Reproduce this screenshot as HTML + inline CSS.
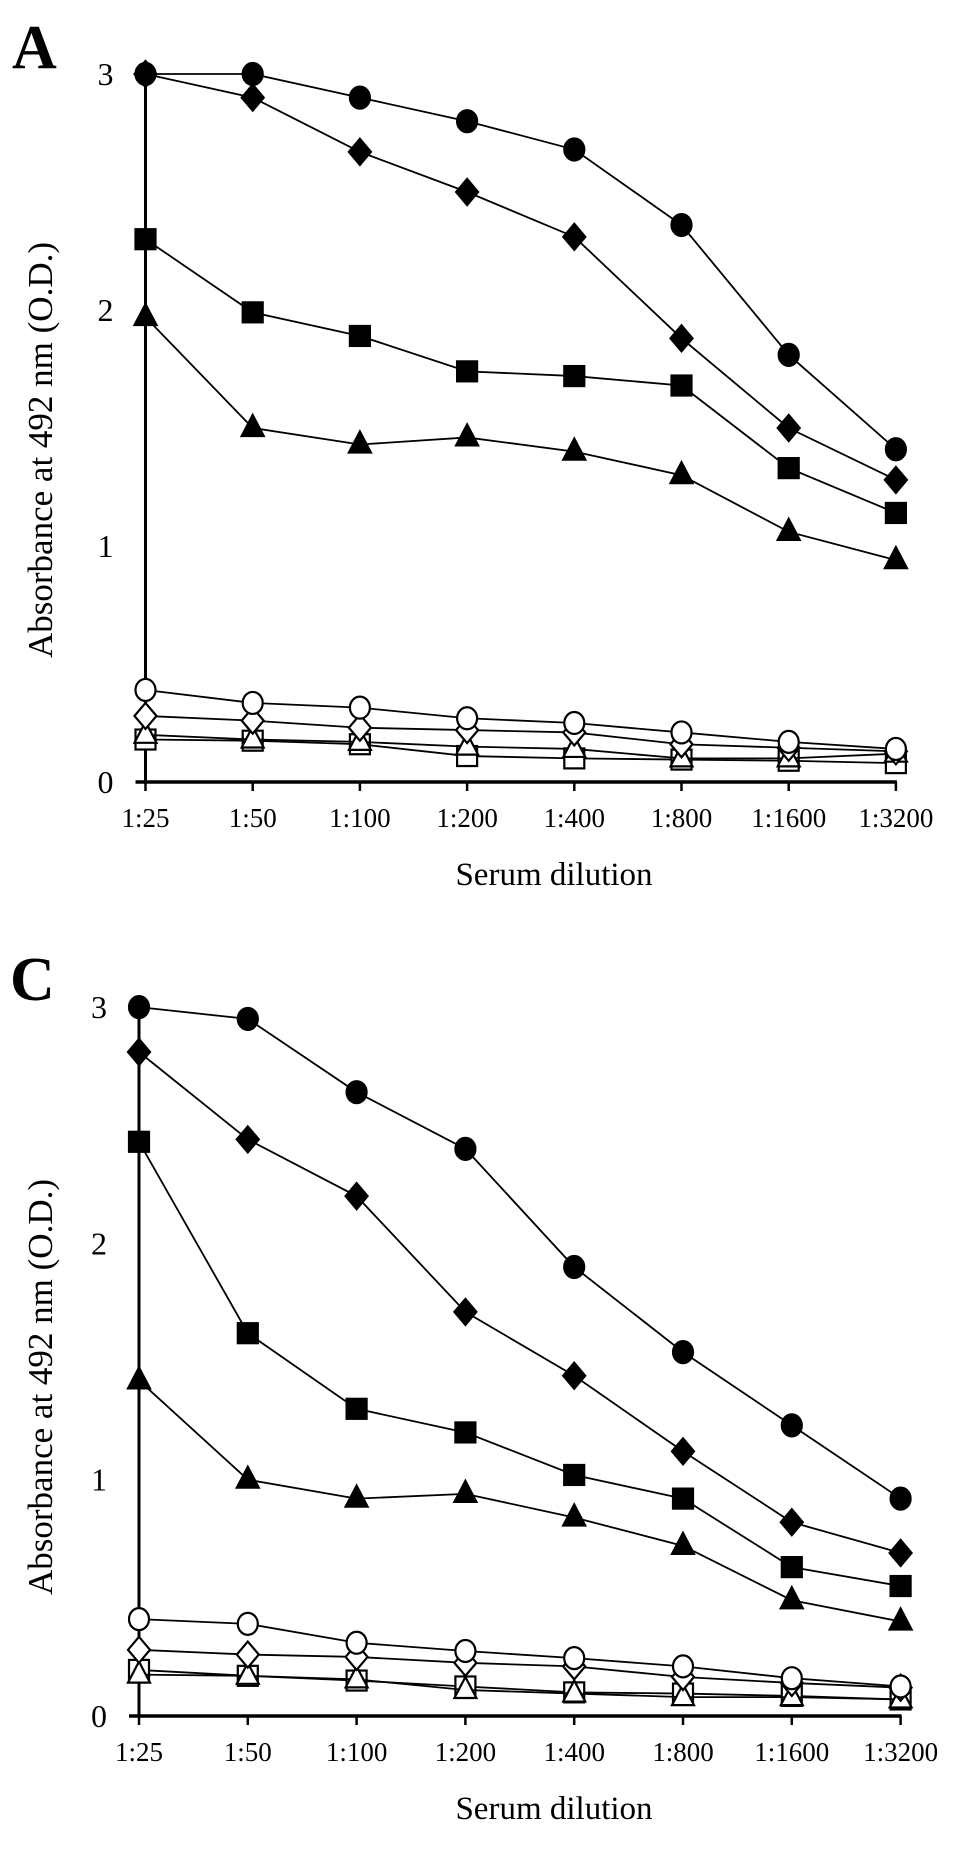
<!DOCTYPE html>
<html><head><meta charset="utf-8"><style>
html,body{margin:0;padding:0;background:#fff;}
svg{display:block;font-family:"Liberation Serif",serif;}
</style></head><body>
<svg id="chart" width="966" height="1850" viewBox="0 0 966 1850"></svg>
<script>
const categories=["1:25","1:50","1:100","1:200","1:400","1:800","1:1600","1:3200"];
const yTicks=[0,1,2,3];
const aCircleFilled=[3.0,3.0,2.9,2.8,2.68,2.36,1.81,1.41];
const aDiamondFilled=[3.0,2.9,2.67,2.5,2.31,1.88,1.5,1.28];
const aSquareFilled=[2.3,1.99,1.89,1.74,1.72,1.68,1.33,1.14];
const aTriangleFilled=[1.97,1.5,1.43,1.46,1.4,1.3,1.06,0.94];
const aCircleOpen=[0.39,0.335,0.315,0.27,0.25,0.21,0.17,0.14];
const aDiamondOpen=[0.28,0.26,0.23,0.22,0.21,0.16,0.145,0.13];
const aTriangleOpen=[0.2,0.18,0.17,0.15,0.14,0.10,0.10,0.12];
const aSquareOpen=[0.18,0.175,0.16,0.11,0.10,0.095,0.09,0.08];
const cCircleFilled=[3.0,2.95,2.64,2.4,1.9,1.54,1.23,0.92];
const cDiamondFilled=[2.81,2.44,2.2,1.71,1.44,1.12,0.82,0.69];
const cSquareFilled=[2.43,1.62,1.3,1.2,1.02,0.92,0.63,0.55];
const cTriangleFilled=[1.42,1.0,0.92,0.94,0.84,0.72,0.49,0.4];
const cCircleOpen=[0.41,0.39,0.31,0.275,0.245,0.21,0.16,0.125];
const cDiamondOpen=[0.28,0.26,0.25,0.225,0.21,0.165,0.14,0.12];
const cSquareOpen=[0.195,0.17,0.15,0.125,0.10,0.095,0.085,0.07];
const cTriangleOpen=[0.175,0.17,0.155,0.11,0.095,0.08,0.08,0.07];

const NS="http://www.w3.org/2000/svg";
const svg=document.getElementById('chart');
function mk(tag,attrs,parent){const e=document.createElementNS(NS,tag);for(const k in attrs)e.setAttribute(k,attrs[k]);(parent||svg).appendChild(e);return e;}

function panel(p){
  const g=mk('g',{});
  
  
  const x=i=>p.x0+i*p.dx;
  const y=v=>p.y0-v*p.unit;
  const lt=mk('text',{x:p.lx,y:p.ly,'font-size':62,'font-weight':'bold'},g);
  lt.textContent=p.id;
  
  
  const ya=mk('line',{x1:x(0),y1:y(3),x2:x(0),y2:y(0),stroke:'#000','stroke-width':3},g);
  
  
  const xa=mk('line',{x1:x(0)-10,y1:y(0),x2:x(7)+1,y2:y(0),stroke:'#000','stroke-width':3.5},g);
  
  
  categories.forEach((c,i)=>{
    const tk=mk('line',{x1:x(i),y1:y(0),x2:x(i),y2:y(0)+9,stroke:'#000','stroke-width':2.5},g);
    
    
    const t=mk('text',{x:x(i),y:y(0)+45,'font-size':27,'text-anchor':'middle'},g);
    t.textContent=c;
    
    
  });
  yTicks.forEach(v=>{
    const t=mk('text',{x:x(0)-40,y:y(v)+11,'font-size':32,'text-anchor':'middle'},g);
    t.textContent=v;
    
    
  });
  const xt=mk('text',{x:554,y:y(0)+103,'font-size':33,'text-anchor':'middle'},g);
  xt.textContent='Serum dilution';
  
  
  const yt=mk('text',{x:0,y:0,'font-size':35,'text-anchor':'middle',transform:`translate(${p.tx},${p.ty}) rotate(-90)`,'xml:space':'preserve'},g);
  yt.textContent='Absorbance  at 492 nm (O.D.)';
  
  
  p.series.forEach(s=>{
    const sg=mk('g',{},g);
    
    
    const pts=s.data.map((v,i)=>x(i)+','+y(v)).join(' ');
    const pl=mk('polyline',{points:pts,fill:'none',stroke:'#000','stroke-width':1.8},sg);
    
    
    s.data.forEach((v,i)=>{
      const cx=x(i),cy=y(v);
      const fill=s.filled?'#000':'#fff';
      const st={fill:fill,stroke:'#000','stroke-width':2.2};
      let m;
      if(s.shape==='circle') m=mk('ellipse',Object.assign({cx:cx,cy:cy,rx:10,ry:11},st),sg);
      else if(s.shape==='square') m=mk('rect',Object.assign({x:cx-10,y:cy-10,width:20,height:20},st),sg);
      else if(s.shape==='diamond') m=mk('polygon',Object.assign({points:`${cx},${cy-13} ${cx+11},${cy} ${cx},${cy+13} ${cx-11},${cy}`},st),sg);
      else m=mk('polygon',Object.assign({points:`${cx},${cy-13} ${cx+11},${cy+8} ${cx-11},${cy+8}`},st),sg);
      
      
    });
  });
}
panel({id:'A',x0:145.5,dx:107.2,y0:782,unit:236,lx:12,ly:68,tx:52,ty:450,series:[
  {name:'open-square',shape:'square',filled:false,data:aSquareOpen},
  {name:'open-triangle',shape:'triangle',filled:false,data:aTriangleOpen},
  {name:'open-diamond',shape:'diamond',filled:false,data:aDiamondOpen},
  {name:'open-circle',shape:'circle',filled:false,data:aCircleOpen},
  {name:'filled-triangle',shape:'triangle',filled:true,data:aTriangleFilled},
  {name:'filled-square',shape:'square',filled:true,data:aSquareFilled},
  {name:'filled-diamond',shape:'diamond',filled:true,data:aDiamondFilled},
  {name:'filled-circle',shape:'circle',filled:true,data:aCircleFilled}]});
panel({id:'C',x0:139,dx:108.8,y0:1716,unit:236.3,lx:10,ly:1000,tx:52,ty:1387,series:[
  {name:'open-square',shape:'square',filled:false,data:cSquareOpen},
  {name:'open-triangle',shape:'triangle',filled:false,data:cTriangleOpen},
  {name:'open-diamond',shape:'diamond',filled:false,data:cDiamondOpen},
  {name:'open-circle',shape:'circle',filled:false,data:cCircleOpen},
  {name:'filled-triangle',shape:'triangle',filled:true,data:cTriangleFilled},
  {name:'filled-square',shape:'square',filled:true,data:cSquareFilled},
  {name:'filled-diamond',shape:'diamond',filled:true,data:cDiamondFilled},
  {name:'filled-circle',shape:'circle',filled:true,data:cCircleFilled}]});
</script>
</body></html>
